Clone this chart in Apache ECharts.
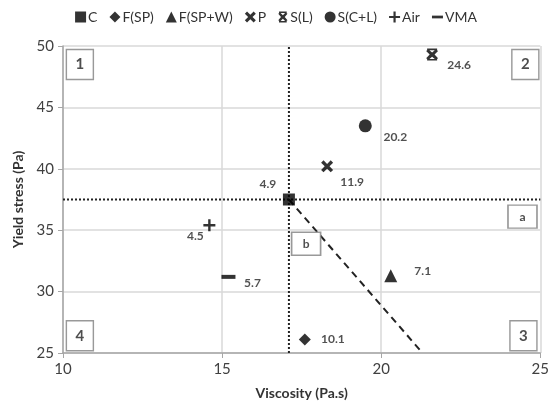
<!DOCTYPE html>
<html>
<head>
<meta charset="utf-8">
<script src="https://cdn.jsdelivr.net/npm/echarts@6/dist/echarts.min.js"></script>
<style>
  html, body { margin: 0; padding: 0; background: #fff; }
  #main { width: 552px; height: 410px; }
</style>
</head>
<body>
<div id="main"></div>
<script>
// mixes and their measured points
const categories = ['C', 'F(SP)', 'F(SP+W)', 'P', 'S(L)', 'S(C+L)', 'Air', 'VMA'];
const viscosity = [17.1, 17.6, 20.3, 18.3, 21.6, 19.5, 14.6, 15.2];
const yieldStress = [37.5, 26.1, 31.3, 40.2, 49.3, 43.5, 35.4, 31.2];
const pointLabels = ['4.9', '10.1', '7.1', '11.9', '24.6', '20.2', '4.5', '5.7'];

// reference lines
const refX = [17.1, 17.1];
const refXY = [25, 50];
const refYX = [10, 25];
const refY = [37.5, 37.5];
const dashX = [17.1, 21.3];
const dashY = [37.5, 25];

// zone markers
const zoneNames = ['1', '2', '3', '4', 'a', 'b'];
const zoneX = [10.53, 24.53, 24.47, 10.53, 24.44, 17.64];
const zoneY = [48.5, 48.5, 26.4, 26.4, 36.1, 33.9];

const FONT = 'Lato, "Open Sans", sans-serif';

const xPath = 'path://M0,2 L2,0 L5,3 L8,0 L10,2 L7,5 L10,8 L8,10 L5,7 L2,10 L0,8 L3,5 Z';
const slPath = 'path://M1.5,0 H8.5 V1.3 H1.5 Z M1.5,8.7 H8.5 V10 H1.5 Z ' +
    'M0.8,2 L2.5,0.8 L5,3.3 L7.5,0.8 L9.2,2 L6.7,5 L9.2,8 L7.5,9.2 L5,6.7 L2.5,9.2 L0.8,8 L3.3,5 Z';
const dashPath = 'path://M0,0 M0,4.5 H12 V7.5 H0 Z M12,12';

const symbols = [
    'rect',
    'diamond',
    'triangle',
    xPath,
    slPath,
    'circle',
    'path://M4,0 H6 V4 H10 V6 H6 V10 H4 V6 H0 V4 H4 Z',
    'rect'
];
const legendIcons = ['rect', 'diamond', 'triangle', xPath, slPath, 'circle',
    'path://M4,0 H6 V4 H10 V6 H6 V10 H4 V6 H0 V4 H4 Z', dashPath];
const symbolSizes = [12, 12, 13, 12, 12, 13, 12, [14, 4]];
const labelOffsets = [[-21, -15], [28, 0], [32, -5], [25, 16], [27, 11], [30, 11], [-14, 11], [24, 6]];

const pointSeries = categories.map(function (name, i) {
    return {
        name: name,
        type: 'scatter',
        symbol: symbols[i],
        symbolSize: symbolSizes[i],
        itemStyle: { color: '#000' },
        z: 5,
        label: {
            show: true,
            position: 'inside',
            offset: labelOffsets[i],
            formatter: pointLabels[i],
            fontFamily: FONT,
            fontSize: 12,
            fontWeight: 'bold',
            color: '#262626'
        },
        data: [[viscosity[i], yieldStress[i]]]
    };
});

function linePts(xs, ys) {
    return xs.map(function (x, i) { return [x, ys[i]]; });
}

const lineSeries = [
    {
        type: 'line', symbol: 'none', silent: true, z: 3,
        lineStyle: { color: '#222', width: 2, type: [2, 2] },
        data: linePts(refX, refXY)
    },
    {
        type: 'line', symbol: 'none', silent: true, z: 3,
        lineStyle: { color: '#222', width: 2, type: [2, 2] },
        data: linePts(refYX, refY)
    },
    {
        type: 'line', symbol: 'none', silent: true, z: 3,
        lineStyle: { color: '#222', width: 2, type: [7, 5] },
        data: linePts(dashX, dashY)
    }
];

const zoneSeries = {
    type: 'scatter',
    silent: true,
    z: 4,
    data: zoneNames.map(function (n, i) {
        const small = (n === 'a' || n === 'b');
        return {
            value: [zoneX[i], zoneY[i]],
            symbol: 'rect',
            symbolSize: small ? [29, 23] : [27, 30],
            itemStyle: { color: '#fff', borderColor: '#7f7f7f', borderWidth: 1.5 },
            label: {
                show: true,
                position: 'inside',
                formatter: n,
                fontFamily: FONT,
                fontSize: small ? 12 : 15,
                fontWeight: 'bold',
                color: '#222'
            }
        };
    })
};

let myChart = echarts.init(document.getElementById('main'));
myChart.setOption({
    animation: false,
    backgroundColor: '#fff',
    legend: {
        data: categories.map(function (n, i) { return { name: n, icon: legendIcons[i] }; }),
        top: 5,
        left: 'center',
        itemWidth: 11,
        itemHeight: 11,
        itemGap: 12,
        textStyle: { fontFamily: FONT, fontSize: 14, color: '#333', padding: [0, 0, 0, -3] }
    },
    grid: { left: 63, right: 10, top: 46, bottom: 57 },
    xAxis: {
        type: 'value',
        min: 10,
        max: 25,
        interval: 5,
        name: 'Viscosity (Pa.s)',
        nameLocation: 'middle',
        nameGap: 33,
        nameTextStyle: { fontFamily: FONT, fontSize: 14, fontWeight: 'bold', color: '#333' },
        axisLine: { lineStyle: { color: '#a6a6a6', width: 1.5 } },
        axisTick: { show: true, length: 5, lineStyle: { color: '#a6a6a6' } },
        axisLabel: { fontFamily: FONT, fontSize: 15, color: '#404040', margin: 9 },
        splitLine: { lineStyle: { color: '#d9d9d9', width: 1.5 } }
    },
    yAxis: {
        type: 'value',
        min: 25,
        max: 50,
        interval: 5,
        name: 'Yield stress (Pa)',
        nameLocation: 'middle',
        nameGap: 36,
        nameTextStyle: { fontFamily: FONT, fontSize: 14, fontWeight: 'bold', color: '#333' },
        axisLine: { show: true, lineStyle: { color: '#a6a6a6', width: 1.5 } },
        axisTick: { show: true, length: 5, lineStyle: { color: '#a6a6a6' } },
        axisLabel: { fontFamily: FONT, fontSize: 15, color: '#404040', margin: 9 },
        splitLine: { lineStyle: { color: '#d9d9d9', width: 1.5 } }
    },
    series: lineSeries.concat([zoneSeries]).concat(pointSeries)
});
</script>
</body>
</html>
